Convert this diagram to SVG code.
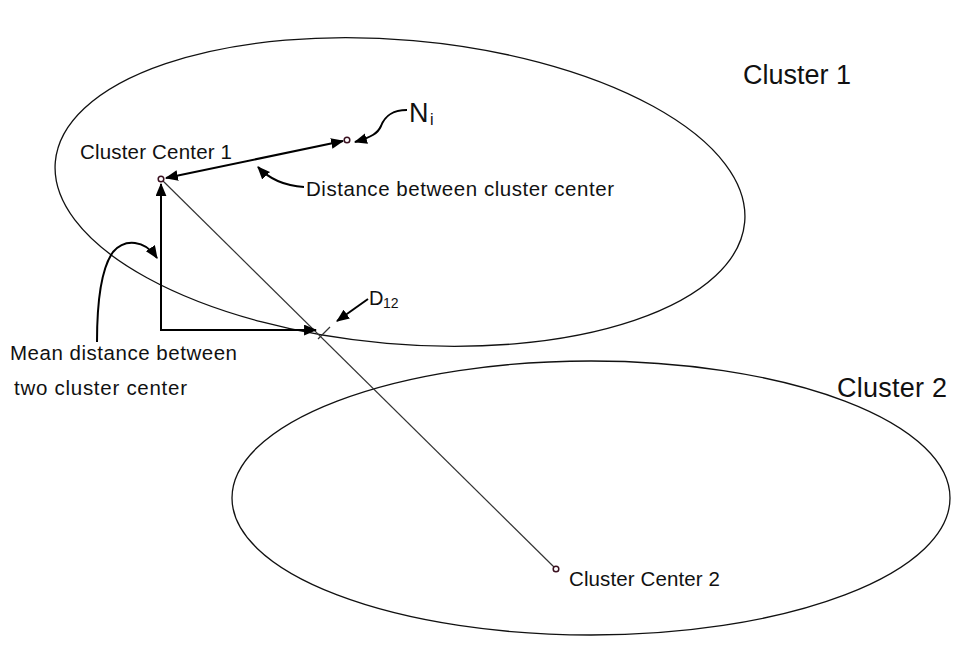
<svg xmlns="http://www.w3.org/2000/svg" width="955" height="646" viewBox="0 0 955 646">
<defs>
<style>
.ell{fill:none;stroke:#111;stroke-width:1.3}
.thin{fill:none;stroke:#333;stroke-width:1.2}
.arr{fill:none;stroke:#000;stroke-width:2}
.pt{fill:#fff;stroke:#3a1020;stroke-width:1.5}
text{font-family:"Liberation Sans",Arial,sans-serif;fill:#111}
.lbl{font-size:20.5px}
.big{font-size:27px}
</style>
<marker id="ah" viewBox="0 0 12 10" refX="11" refY="5" markerWidth="13" markerHeight="11" markerUnits="userSpaceOnUse" orient="auto-start-reverse">
<path d="M0,0 L12,5 L0,10 Z" fill="#000"/>
</marker>
</defs>
<rect width="955" height="646" fill="#fff"/>
<g id="cluster1">
<ellipse class="ell" cx="400" cy="192" rx="346" ry="152" transform="rotate(5 400 192)"/>
<text class="big" x="743" y="84" textLength="108">Cluster 1</text>
</g>
<g id="cluster2">
<ellipse class="ell" cx="591" cy="498" rx="359" ry="137"/>
<text class="big" x="837" y="397" textLength="110">Cluster 2</text>
</g>
<g id="connectors">
<line class="thin" x1="161" y1="179" x2="556" y2="569"/>
<line class="thin" x1="318" y1="339" x2="330" y2="327"/>
<line class="arr" x1="166" y1="178" x2="343" y2="141" marker-start="url(#ah)" marker-end="url(#ah)"/>
<path class="arr" d="M161,184 V330 H316" marker-start="url(#ah)" marker-end="url(#ah)"/>
<path class="arr" d="M407,110 C392,110 385,116 381,126 C378,133 372,137 355,142" marker-end="url(#ah)"/>
<path class="arr" d="M304,187 C288,186 272,182 258,167" marker-end="url(#ah)"/>
<path class="arr" d="M97,342 C97,310 100,270 113,252 C125,238 145,240 157,258" marker-end="url(#ah)"/>
<path class="arr" d="M368,299 L337,321" marker-end="url(#ah)"/>
</g>
<g id="center1">
<circle class="pt" cx="161" cy="179" r="2.8"/>
<text class="lbl" x="80" y="159" textLength="152">Cluster Center 1</text>
</g>
<g id="ni">
<circle class="pt" cx="347" cy="140" r="2.8"/>
<text x="409" y="122" font-size="27">N</text>
<text x="430" y="125" font-size="16">i</text>
</g>
<g id="center2">
<circle class="pt" cx="556" cy="569" r="2.8"/>
<text class="lbl" x="569" y="586" textLength="151">Cluster Center 2</text>
</g>
<g id="distance-label">
<text class="lbl" x="306" y="196" textLength="308">Distance between cluster center</text>
</g>
<g id="mean-label">
<text class="lbl" x="10" y="360" textLength="227">Mean distance between</text>
<text class="lbl" x="14" y="395" textLength="173">two cluster center</text>
</g>
<g id="d12">
<text x="369" y="305" font-size="20">D</text>
<text x="383" y="308" font-size="14">12</text>
</g>
</svg>
